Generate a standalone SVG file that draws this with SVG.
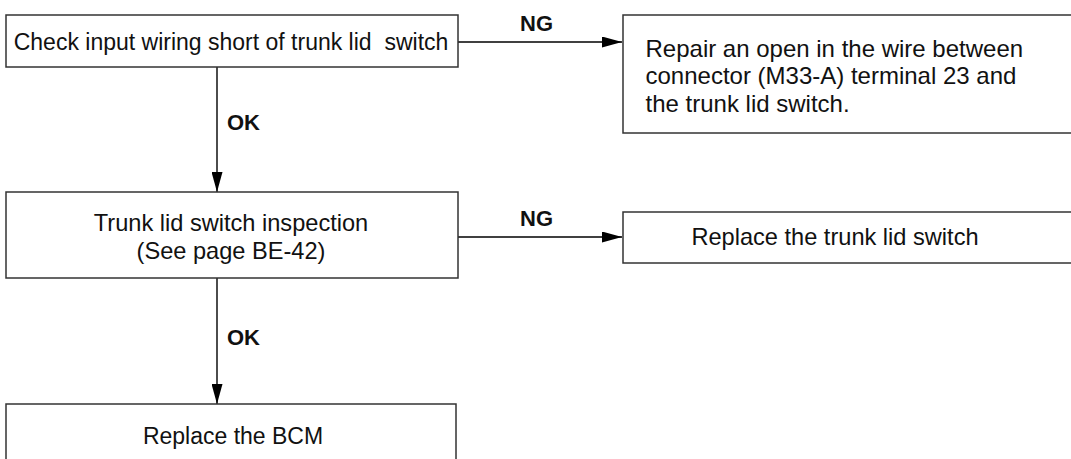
<svg xmlns="http://www.w3.org/2000/svg" width="1071" height="459" viewBox="0 0 1071 459">
  <defs>
    <marker id="arrow" markerWidth="20" markerHeight="11" refX="20" refY="5.5" orient="auto" markerUnits="userSpaceOnUse">
      <path d="M0,0 L20,5.5 L0,11 Z" fill="#000"/>
    </marker>
    <style>
      .box { fill: #fff; stroke: #333; stroke-width: 1.5; }
      .txt { font-family: "Liberation Sans", Arial, sans-serif; font-size: 23px; fill: #111; }
      .big { font-size: 24px; }
      .mid { font-size: 23.6px; }
      .lbl { font-family: "Liberation Sans", Arial, sans-serif; font-size: 22px; font-weight: bold; fill: #111; }
      .conn { stroke: #000; stroke-width: 1.4; fill: none; marker-end: url(#arrow); }
    </style>
  </defs>
  <rect width="1071" height="459" fill="#fff"/>

  <g id="connectors">
    <line class="conn" x1="458" y1="42" x2="622" y2="42"/>
    <line class="conn" x1="217" y1="67" x2="217" y2="192"/>
    <line class="conn" x1="458" y1="237" x2="622" y2="237"/>
    <line class="conn" x1="217" y1="278" x2="217" y2="404"/>
    <text class="lbl" x="520" y="31">NG</text>
    <text class="lbl" x="227" y="130">OK</text>
    <text class="lbl" x="520" y="226">NG</text>
    <text class="lbl" x="227" y="344.5">OK</text>
  </g>

  <g id="node-check-input">
    <rect class="box" x="6" y="15" width="452" height="52"/>
    <text class="txt" x="231" y="49.5" text-anchor="middle" xml:space="preserve">Check input wiring short of trunk lid  switch</text>
  </g>

  <g id="node-repair-open">
    <rect class="box" x="623" y="15" width="460" height="118"/>
    <text class="txt big" x="645.5" y="57">Repair an open in the wire between</text>
    <text class="txt big" x="645.5" y="84">connector (M33-A) terminal 23 and</text>
    <text class="txt big" x="645.5" y="111.5">the trunk lid switch.</text>
  </g>

  <g id="node-inspection">
    <rect class="box" x="6" y="192" width="452" height="86"/>
    <text class="txt mid" x="231" y="230.5" text-anchor="middle">Trunk lid switch inspection</text>
    <text class="txt mid" x="231" y="258.5" text-anchor="middle">(See page BE-42)</text>
  </g>

  <g id="node-replace-switch">
    <rect class="box" x="623" y="212" width="460" height="51"/>
    <text class="txt mid" x="835" y="245" text-anchor="middle">Replace the trunk lid switch</text>
  </g>

  <g id="node-replace-bcm">
    <rect class="box" x="6" y="404" width="450" height="70"/>
    <text class="txt" x="233" y="444" text-anchor="middle">Replace the BCM</text>
  </g>
</svg>
